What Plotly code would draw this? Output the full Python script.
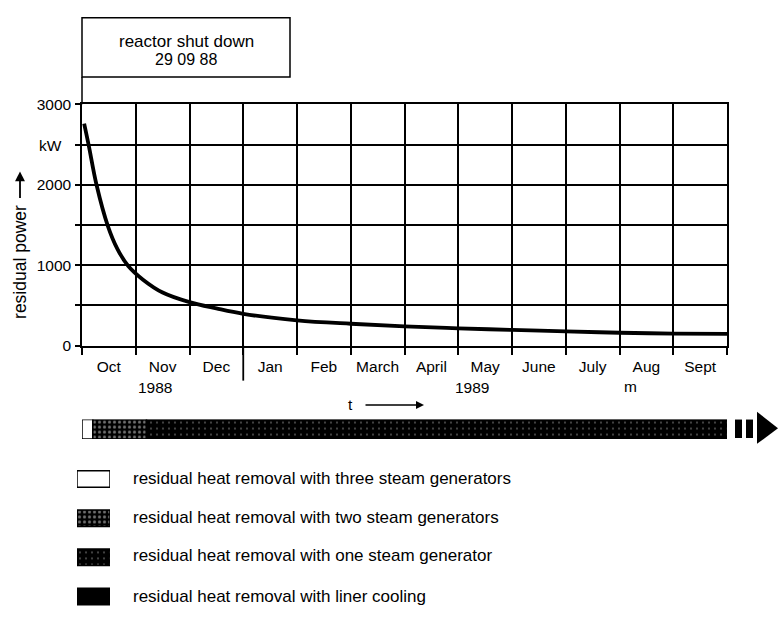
import plotly.graph_objects as go

# ---------------- data ----------------
months = ["Oct", "Nov", "Dec", "Jan", "Feb", "March", "April", "May", "June", "July", "Aug", "Sept"]
month_centres = [i + 0.5 for i in range(len(months))]
month_bounds = list(range(len(months) + 1))
year_boundary_month = "Jan"

t_months = [0.04, 0.125, 0.27, 0.48, 0.66, 0.86, 1.135, 1.5, 2.0, 2.5, 3, 4, 5, 6, 7, 8, 9, 10, 11, 12]
power_kw = [2760, 2490, 2000, 1490, 1200, 990, 820, 660, 540, 462, 395, 315, 272, 240, 215, 195, 178, 160, 150, 145]

y_tick_vals = [0, 500, 1000, 1500, 2000, 2500, 3000]
y_tick_text = ["0", "", "1000", "", "2000", "", "3000"]

phase_labels = [
    "residual heat removal with three steam generators",
    "residual heat removal with two steam generators",
    "residual heat removal with one steam generator",
    "residual heat removal with liner cooling",
]
phase_start = [0.0, 0.2, 1.2]
phase_end = [0.2, 1.2, 12.0]

# ---------------- helpers ----------------
W, H = 783, 626
FONT = "Liberation Sans, Arial, Helvetica, sans-serif"


def px(x):
    return x / W


def py(y):
    return 1 - y / H


PLOT_L, PLOT_R, PLOT_T, PLOT_B = 82, 727, 98, 346

fill_styles = [
    dict(color="white", pattern=None),
    dict(color="black", pattern=dict(shape=".", fgcolor="#e0e0e0", bgcolor="black", size=5, solidity=0.3)),
    dict(color="black", pattern=dict(shape=".", fgcolor="#a0a0a0", bgcolor="black", size=6, solidity=0.1)),
    dict(color="black", pattern=None),
]

fig = go.Figure()

# decay curve
fig.add_trace(go.Scatter(
    x=t_months, y=power_kw, mode="lines",
    line=dict(color="black", width=3.8, shape="spline", smoothing=1.0),
    xaxis="x", yaxis="y", showlegend=False, hoverinfo="skip",
))

# phase bar under the chart
for i in range(len(phase_start)):
    st = fill_styles[i]
    marker = dict(color=st["color"], line=dict(color="black", width=1.5))
    if st["pattern"] is not None:
        marker["pattern"] = st["pattern"]
    fig.add_trace(go.Bar(
        x=[phase_end[i] - phase_start[i]], base=[phase_start[i]], y=[0],
        orientation="h", width=1.0, marker=marker,
        xaxis="x", yaxis="y2", showlegend=False, hoverinfo="skip",
    ))

# legend swatches (as bars on their own small axes)
for i, lab in enumerate(phase_labels):
    st = fill_styles[i]
    marker = dict(color=st["color"], line=dict(color="black", width=1.5))
    if st["pattern"] is not None:
        marker["pattern"] = st["pattern"]
    fig.add_trace(go.Bar(
        x=[1], y=[i], orientation="h", width=0.42, marker=marker,
        xaxis="x3", yaxis="y3", showlegend=False, hoverinfo="skip",
    ))

shapes = []
shapes.append(dict(type="rect", xref="paper", yref="paper",
                   x0=px(82), x1=px(290), y0=py(70), y1=py(9),
                   line=dict(color="black", width=1.5), fillcolor="white"))
shapes.append(dict(type="line", xref="paper", yref="paper",
                   x0=px(82), x1=px(82), y0=py(98), y1=py(70),
                   line=dict(color="black", width=1.5)))
jan_x = months.index(year_boundary_month)
shapes.append(dict(type="line", xref="x", yref="paper",
                   x0=jan_x, x1=jan_x, y0=py(346), y1=py(382),
                   line=dict(color="black", width=1.8)))
shapes.append(dict(type="rect", xref="paper", yref="paper",
                   x0=px(735), x1=px(742), y0=py(441), y1=py(422),
                   fillcolor="black", line=dict(width=0)))
shapes.append(dict(type="rect", xref="paper", yref="paper",
                   x0=px(746), x1=px(753), y0=py(441), y1=py(422),
                   fillcolor="black", line=dict(width=0)))
shapes.append(dict(type="path", xref="paper", yref="paper",
                   path=f"M {px(757)} {py(414)} L {px(778)} {py(431)} L {px(757)} {py(447)} Z",
                   fillcolor="black", line=dict(width=0)))


def txt(text, x, y, size=15.5, xa="center", ya="middle", angle=0):
    return dict(text=text, xref="paper", yref="paper", x=px(x), y=py(y),
                xanchor=xa, yanchor=ya, textangle=angle, showarrow=False,
                font=dict(size=size, color="black", family=FONT))


annotations = [
    txt("reactor shut down", 186, 33, size=17),
    txt("29 09 88", 186, 52, size=16),
    txt("kW", 64, 140, size=15.5, xa="right"),
    txt("residual power", 20, 260, size=17.5, angle=-90),
    txt("1988", 155, 389, size=15.5),
    txt("1989", 472, 389, size=15.5),
    txt("m", 630, 388, size=15.5),
    txt("t", 350, 407, size=15.5),
]
annotations.append(dict(text="", xref="paper", yref="paper", x=px(20), y=py(167),
                        axref="pixel", ayref="pixel", ax=0, ay=28, showarrow=True,
                        arrowhead=2, arrowsize=1.1, arrowwidth=1.8, arrowcolor="black"))
annotations.append(dict(text="", xref="paper", yref="paper", x=px(424), y=py(407),
                        axref="pixel", ayref="pixel", ax=-60, ay=0, showarrow=True,
                        arrowhead=2, arrowsize=1.0, arrowwidth=1.6, arrowcolor="black"))
legend_rows = [483, 523, 562, 604]
for i, lab in enumerate(phase_labels):
    annotations.append(txt(lab, 131, legend_rows[i], size=17, xa="left"))

fig.update_layout(
    width=W, height=H,
    margin=dict(l=0, r=0, t=0, b=0),
    paper_bgcolor="white", plot_bgcolor="white",
    font=dict(family=FONT, size=15.5, color="black"),
    showlegend=False,
    barmode="overlay",
    xaxis=dict(
        domain=[px(PLOT_L), px(PLOT_R)], range=[0, 12], anchor="y",
        tickmode="array", tickvals=month_centres, ticktext=months,
        ticks="", showgrid=False, ticklabelstandoff=6,
        showline=True, mirror=True, linecolor="black", linewidth=1.5,
        zeroline=False, fixedrange=True,
        tickfont=dict(size=15.5, color="black", family=FONT),
        minor=dict(tickmode="array", tickvals=month_bounds, ticks="outside", ticklen=8,
                   tickwidth=1.5, tickcolor="black", showgrid=True,
                   gridcolor="black", gridwidth=1.5),
    ),
    yaxis=dict(
        domain=[py(PLOT_B), py(PLOT_T)], range=[0, 3000], anchor="x",
        tickmode="array", tickvals=y_tick_vals, ticktext=y_tick_text,
        ticks="outside", ticklen=5, tickwidth=1.5, tickcolor="black",
        showgrid=True, gridcolor="black", gridwidth=1.5,
        showline=True, mirror=True, linecolor="black", linewidth=1.5,
        zeroline=False, fixedrange=True, ticklabelstandoff=1,
        tickfont=dict(size=15.5, color="black", family=FONT),
    ),
    yaxis2=dict(domain=[py(442), py(422)], range=[-0.5, 0.5], anchor="x",
                visible=False, fixedrange=True),
    xaxis3=dict(domain=[px(77), px(110)], range=[0, 1], anchor="y3",
                visible=False, fixedrange=True),
    yaxis3=dict(domain=[py(624), py(463)], range=[3.5, -0.5], anchor="x3",
                visible=False, fixedrange=True),
    shapes=shapes,
    annotations=annotations,
)

fig.write_html("out.html", config={"displayModeBar": False},
               post_script="document.body.style.margin='0px';document.body.style.overflow='hidden';")
